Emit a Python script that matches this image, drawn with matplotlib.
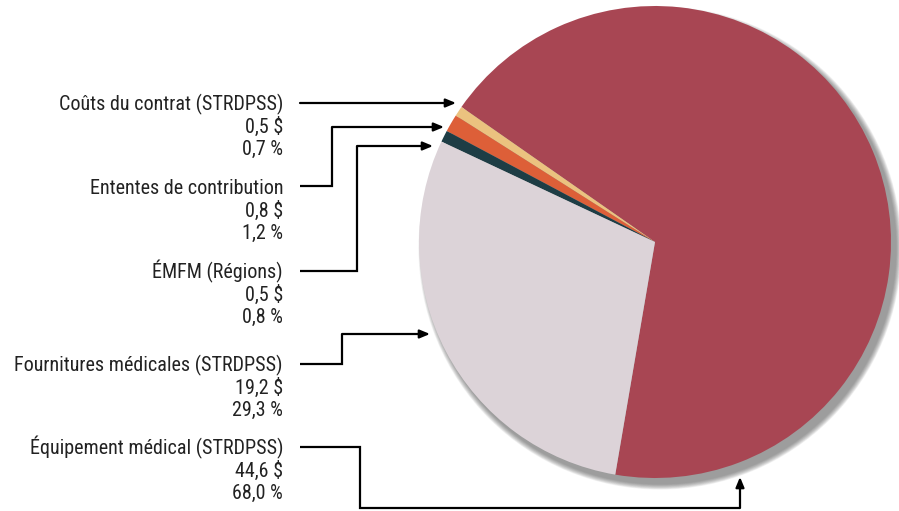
import matplotlib.pyplot as plt
from matplotlib.patches import Circle

# Slices in drawing order (counterclockwise starting at bottom)
labels = ["Équipement médical (STRDPSS)", "Coûts du contrat (STRDPSS)",
          "Ententes de contribution", "ÉMFM (Régions)",
          "Fournitures médicales (STRDPSS)"]
dollars = ["44,6 $", "0,5 $", "0,8 $", "0,5 $", "19,2 $"]
percents = [68.0, 0.7, 1.2, 0.8, 29.3]
colors = ["#A84653", "#EBC27F", "#DD5F38", "#1E3D45", "#DCD3D8"]

W, H = 899, 511
plt.rcParams['font.family'] = ['Roboto Condensed', 'Archivo Narrow', 'DejaVu Sans']

fig = plt.figure(figsize=(W / 100, H / 100), dpi=100)
ax = fig.add_axes([0, 0, 1, 1])

cx, cy, r = 655, H - 242, 236

# soft drop shadow behind the pie (down/right)
for k in range(14, 0, -1):
    ax.add_patch(Circle((cx + 5, cy - 6), r + k * 0.4, color='#4a4a4a',
                        alpha=0.05, lw=0, zorder=0))

ax.pie(percents, colors=colors, startangle=-99.7, counterclock=True,
       center=(cx, cy), radius=r, frame=True,
       wedgeprops=dict(linewidth=0, zorder=1))
ax.set_xlim(0, W)
ax.set_ylim(0, H)
ax.set_aspect('equal')
ax.axis('off')

def fmt(p):
    return f"{p:.1f}".replace(".", ",") + " %"

# label blocks: first baseline (px), connector path (px), arrow end (px)
blocks = {
    1: (110, [(300, 103)], (456, 103)),
    2: (194, [(300, 186), (332, 186), (332, 127)], (444, 127)),
    3: (278, [(300, 271), (357, 271), (357, 146)], (433, 146)),
    4: (371, [(300, 364), (342, 364), (342, 334)], (430, 334)),
    0: (454, [(300, 447), (360, 447), (360, 508), (740, 508)], (740, 477)),
}

for i, (by, path, end) in blocks.items():
    lines = [labels[i], dollars[i], fmt(percents[i])]
    for j, s in enumerate(lines):
        ax.text(283, H - (by + j * 22.5), s, ha='right', va='baseline',
                fontsize=14.5, color='#222222')
    xs = [p[0] for p in path]
    ys = [H - p[1] for p in path]
    ax.plot(xs, ys, color='black', lw=1.6, solid_capstyle='butt',
            solid_joinstyle='miter')
    ax.annotate("", xy=(end[0], H - end[1]), xytext=(xs[-1], ys[-1]),
                arrowprops=dict(arrowstyle='-|>,head_length=0.6,head_width=0.25',
                                color='black', lw=1.6, shrinkA=0, shrinkB=0))

fig.savefig("out.png", dpi=100)
